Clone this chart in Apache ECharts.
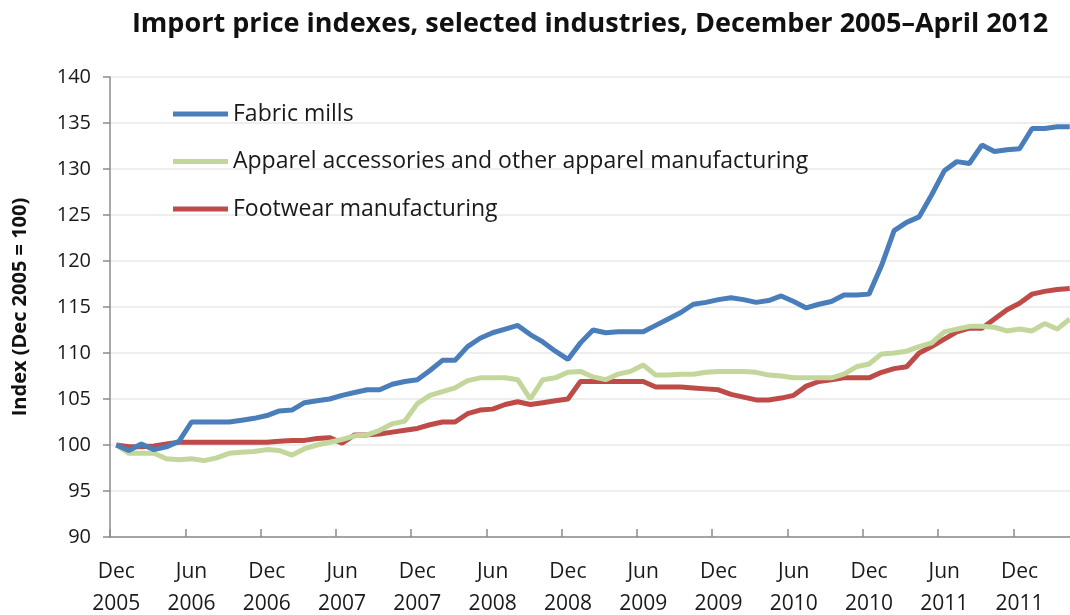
<!DOCTYPE html>
<html>
<head>
<meta charset="utf-8">
<script src="https://cdn.jsdelivr.net/npm/echarts@6/dist/echarts.min.js"></script>
<style>
  html, body { margin: 0; padding: 0; background: #ffffff; }
  #chart { width: 1070px; height: 615px; }
</style>
</head>
<body>
<div id="chart"></div>
<script>
// Monthly import price indexes, Dec 2005 (=100) through Apr 2012
const monthNames = ['Jan','Feb','Mar','Apr','May','Jun','Jul','Aug','Sep','Oct','Nov','Dec'];
const startYear = 2005, startMonth = 11, monthCount = 77;
const categories = [];
for (let i = 0; i < monthCount; i++) {
  const m = (startMonth + i) % 12;
  const y = startYear + Math.floor((startMonth + i) / 12);
  categories.push(monthNames[m] + '\n' + y);
}

const fabricMills = [
  100.0, 99.4, 100.1, 99.5, 99.8, 100.4, 102.5, 102.5, 102.5, 102.5, 102.7, 102.9,
  103.2, 103.7, 103.8, 104.6, 104.8, 105.0, 105.4, 105.7, 106.0, 106.0, 106.6, 106.9,
  107.1, 108.1, 109.2, 109.2, 110.7, 111.6, 112.2, 112.6, 113.0, 112.0, 111.2, 110.2,
  109.3, 111.1, 112.5, 112.2, 112.3, 112.3, 112.3, 113.0, 113.7, 114.4, 115.3, 115.5,
  115.8, 116.0, 115.8, 115.5, 115.7, 116.2, 115.6, 114.9, 115.3, 115.6, 116.3, 116.3,
  116.4, 119.5, 123.3, 124.2, 124.8, 127.2, 129.8, 130.8, 130.6, 132.6, 131.9, 132.1,
  132.2, 134.4, 134.4, 134.6, 134.6
];
const apparelAccessories = [
  100.0, 99.1, 99.1, 99.1, 98.5, 98.4, 98.5, 98.3, 98.6, 99.1, 99.2, 99.3,
  99.5, 99.4, 98.9, 99.6, 100.0, 100.3, 100.6, 101.0, 101.1, 101.6, 102.3, 102.6,
  104.5, 105.4, 105.8, 106.2, 107.0, 107.3, 107.3, 107.3, 107.1, 105.0, 107.1, 107.3,
  107.9, 108.0, 107.4, 107.1, 107.7, 108.0, 108.7, 107.6, 107.6, 107.7, 107.7, 107.9,
  108.0, 108.0, 108.0, 107.9, 107.6, 107.5, 107.3, 107.3, 107.3, 107.3, 107.7, 108.5,
  108.8, 109.9, 110.0, 110.2, 110.7, 111.1, 112.3, 112.6, 112.9, 112.9, 112.8, 112.4,
  112.6, 112.4, 113.2, 112.6, 113.7
];
const footwear = [
  100.0, 99.8, 99.8, 99.9, 100.1, 100.3, 100.3, 100.3, 100.3, 100.3, 100.3, 100.3,
  100.3, 100.4, 100.5, 100.5, 100.7, 100.8, 100.2, 101.1, 101.1, 101.2, 101.4, 101.6,
  101.8, 102.2, 102.5, 102.5, 103.4, 103.8, 103.9, 104.4, 104.7, 104.4, 104.6, 104.8,
  105.0, 106.9, 106.9, 106.9, 106.9, 106.9, 106.9, 106.3, 106.3, 106.3, 106.2, 106.1,
  106.0, 105.5, 105.2, 104.9, 104.9, 105.1, 105.4, 106.4, 106.9, 107.1, 107.3, 107.3,
  107.3, 107.9, 108.3, 108.5, 110.0, 110.7, 111.5, 112.3, 112.7, 112.7, 113.7, 114.7,
  115.4, 116.4, 116.7, 116.9, 117.0
];

const seriesNames = [
  'Fabric mills',
  'Apparel accessories and other apparel manufacturing',
  'Footwear manufacturing'
];
const seriesColors = ['#4a7ebb', '#c3d69b', '#be4b48'];
const seriesData = [fabricMills, apparelAccessories, footwear];

const FONT = '"Open Sans", "Noto Sans", sans-serif';
const chart = echarts.init(document.getElementById('chart'), null, { renderer: 'canvas' });

chart.setOption({
  animation: false,
  backgroundColor: '#ffffff',
  title: {
    text: 'Import price indexes, selected industries, December 2005\u2013April 2012',
    left: 585, top: 6, textAlign: 'center',
    textStyle: { fontFamily: FONT, fontSize: 27, fontWeight: 'bold', color: '#111111' }
  },
  legend: {
    orient: 'vertical',
    left: 173, top: 100, padding: 0,
    icon: 'rect',
    itemWidth: 55, itemHeight: 5, itemGap: 19.5,
    data: seriesNames,
    textStyle: { fontFamily: FONT, fontSize: 23, color: '#1a1a1a', lineHeight: 28 }
  },
  grid: { left: 110, top: 77, width: 966, height: 460, outerBoundsMode: 'none' },
  xAxis: {
    type: 'category',
    data: categories,
    boundaryGap: true,
    axisLine: { lineStyle: { color: '#8c8c8c', width: 1.5 } },
    axisTick: { show: true, inside: true, length: 8, interval: 5, lineStyle: { color: '#8c8c8c', width: 1.5 } },
    axisLabel: {
      interval: 5, margin: 19,
      fontFamily: FONT, fontSize: 21, color: '#1a1a1a', lineHeight: 32
    },
    splitLine: { show: false }
  },
  yAxis: {
    type: 'value',
    min: 90, max: 140, interval: 5,
    name: 'Index (Dec 2005 = 100)',
    nameLocation: 'middle', nameRotate: 90, nameGap: 80,
    nameTextStyle: { fontFamily: FONT, fontSize: 20, fontWeight: 'bold', color: '#111111' },
    axisLine: { show: true, lineStyle: { color: '#8c8c8c', width: 1.5 } },
    axisTick: { show: true, length: 7, lineStyle: { color: '#8c8c8c', width: 1.5 } },
    axisLabel: { margin: 19, fontFamily: FONT, fontSize: 20, color: '#1a1a1a' },
    splitLine: { lineStyle: { color: '#e8e8e8', width: 1.5 } }
  },
  series: seriesData.map((d, i) => ({
    name: seriesNames[i],
    type: 'line',
    data: d,
    symbol: 'none',
    color: seriesColors[i],
    lineStyle: { color: seriesColors[i], width: 5 },
    z: 3 - i
  }))
});
</script>
</body>
</html>
